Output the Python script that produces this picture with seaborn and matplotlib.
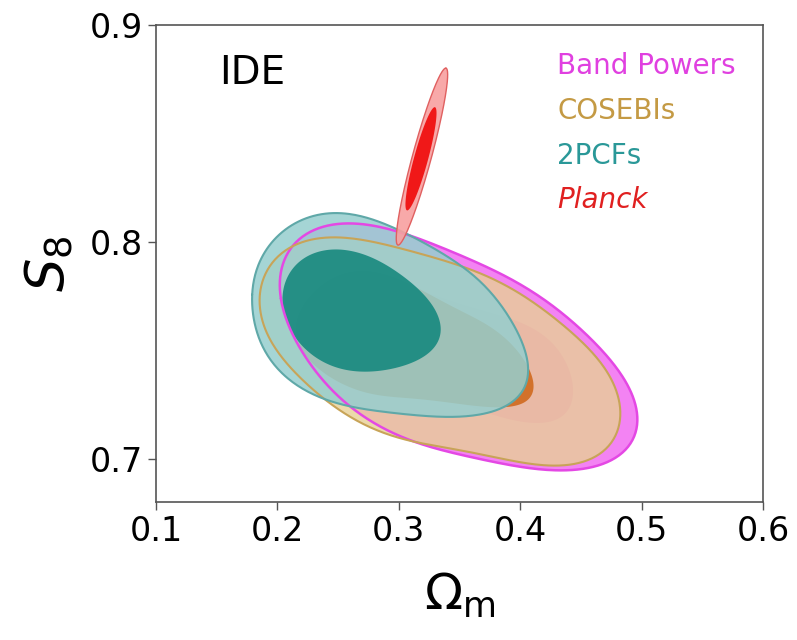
import numpy as np
import matplotlib
matplotlib.use("Agg")
import matplotlib.pyplot as plt
import seaborn as sns

# ----------------------------------
# Contour outlines (Omega_m, S8)
# ----------------------------------

# Band Powers, 95% and 68%
bp_outer_om = [0.204, 0.207, 0.216, 0.236, 0.260, 0.304, 0.342, 0.383, 0.414, 0.441, 0.468,
               0.485, 0.497, 0.495, 0.480, 0.452, 0.420, 0.383, 0.315, 0.274, 0.238, 0.213]
bp_outer_s8 = [0.774, 0.790, 0.802, 0.807, 0.808, 0.804, 0.796, 0.785, 0.776, 0.764, 0.750,
               0.735, 0.721, 0.710, 0.700, 0.696, 0.695, 0.698, 0.707, 0.719, 0.736, 0.755]
bp_inner_om = [0.219, 0.235, 0.268, 0.342, 0.408, 0.437, 0.445, 0.440, 0.429, 0.375, 0.301, 0.235]
bp_inner_s8 = [0.768, 0.778, 0.782, 0.773, 0.761, 0.743, 0.730, 0.722, 0.718, 0.721, 0.734, 0.750]

# COSEBIs, 95% and 68%
cos_outer_om = [0.186, 0.194, 0.210, 0.246, 0.301, 0.369, 0.439, 0.470, 0.482, 0.476, 0.458,
                0.420, 0.383, 0.328, 0.287, 0.249, 0.219, 0.196]
cos_outer_s8 = [0.776, 0.788, 0.798, 0.802, 0.797, 0.785, 0.760, 0.741, 0.722, 0.708, 0.699,
                0.697, 0.701, 0.705, 0.713, 0.723, 0.737, 0.753]
cos_inner_om = [0.216, 0.232, 0.260, 0.317, 0.367, 0.398, 0.411, 0.412, 0.403, 0.342, 0.285, 0.235, 0.219]
cos_inner_s8 = [0.764, 0.778, 0.786, 0.778, 0.764, 0.748, 0.737, 0.730, 0.726, 0.726, 0.729, 0.741, 0.752]

# 2PCFs, 95% and 68%
tp_outer_om = [0.179, 0.186, 0.200, 0.220, 0.249, 0.299, 0.342, 0.381, 0.400, 0.406, 0.401,
               0.392, 0.369, 0.330, 0.287, 0.238, 0.205, 0.183]
tp_outer_s8 = [0.776, 0.791, 0.802, 0.810, 0.814, 0.805, 0.793, 0.773, 0.755, 0.740, 0.729,
               0.725, 0.721, 0.720, 0.721, 0.728, 0.739, 0.758]
tp_inner_om = [0.204, 0.212, 0.226, 0.243, 0.268, 0.287, 0.315, 0.328, 0.334, 0.331, 0.315,
               0.290, 0.271, 0.240, 0.219, 0.208]
tp_inner_s8 = [0.773, 0.787, 0.794, 0.796, 0.795, 0.790, 0.779, 0.770, 0.759, 0.751, 0.746,
               0.741, 0.740, 0.744, 0.753, 0.763]

# Planck: centre, tip of long axis, half-width vector
planck_outer = {"c": (0.3191, 0.8393), "tip": (0.3389, 0.8801), "w": (0.0075, -0.0011)}
planck_inner = {"c": (0.3183, 0.8383), "tip": (0.3298, 0.8621), "w": (0.0056, -0.0008)}

labels = ["Band Powers", "COSEBIs", "2PCFs", "Planck"]
label_colors = ["#e040e0", "#c49a44", "#2a9898", "#e02020"]


def closed_curve(xs, ys, k=4, n=400):
    # smooth closed outline through the read points (low-order Fourier fit)
    xs, ys = np.asarray(xs), np.asarray(ys)
    seg = np.hypot(np.diff(np.r_[xs, xs[0]]) / 0.5, np.diff(np.r_[ys, ys[0]]) / 0.22)
    t = 2 * np.pi * np.r_[0, np.cumsum(seg)[:-1]] / seg.sum()

    def basis(tt):
        cols = [np.ones_like(tt)]
        for j in range(1, k + 1):
            cols += [np.cos(j * tt), np.sin(j * tt)]
        return np.column_stack(cols)

    A = basis(t)
    cx = np.linalg.lstsq(A, xs, rcond=None)[0]
    cy = np.linalg.lstsq(A, ys, rcond=None)[0]
    tt = np.linspace(0, 2 * np.pi, n)
    B = basis(tt)
    return B @ cx, B @ cy


def ellipse(e, n=200):
    t = np.linspace(0, 2 * np.pi, n)
    c, tip, w = np.array(e["c"]), np.array(e["tip"]), np.array(e["w"])
    a = tip - c
    pts = c + np.cos(t)[:, None] * a + np.sin(t)[:, None] * w
    return pts[:, 0], pts[:, 1]


sns.set_style("ticks")
plt.rcParams["font.family"] = ["DejaVu Sans"]
plt.rcParams["mathtext.fontset"] = "dejavusans"
plt.rcParams["text.color"] = "black"
plt.rcParams["axes.labelcolor"] = "black"
plt.rcParams["xtick.labelcolor"] = "black"
plt.rcParams["ytick.labelcolor"] = "black"

fig = plt.figure(figsize=(7.97, 6.4), dpi=100)
ax = fig.add_axes([0.1957, 0.2156, 0.7616, 0.7453])

# fills
x, y = closed_curve(bp_outer_om, bp_outer_s8, k=5)
ax.fill(x, y, color="#f383f3", lw=0, zorder=1)
x, y = closed_curve(bp_inner_om, bp_inner_s8)
ax.fill(x, y, color="#f060e8", lw=0, zorder=1)

x, y = closed_curve(cos_outer_om, cos_outer_s8, k=5)
ax.fill(x, y, color="#e8d095", alpha=0.8, lw=0, zorder=2)
x, y = closed_curve(cos_inner_om, cos_inner_s8)
ax.fill(x, y, color="#d0691e", alpha=0.9, lw=0, zorder=2)

x, y = closed_curve(tp_outer_om, tp_outer_s8, k=5)
ax.fill(x, y, color="#96cfcf", alpha=0.86, lw=0, zorder=3)
x, y = closed_curve(tp_inner_om, tp_inner_s8)
ax.fill(x, y, color="#1a8a80", alpha=0.92, lw=0, zorder=3)

# outlines
for om, s8, col, lw in [(bp_outer_om, bp_outer_s8, "#e448e4", 1.8),
                        (cos_outer_om, cos_outer_s8, "#c8a458", 1.5),
                        (tp_outer_om, tp_outer_s8, "#5fa8a8", 1.5)]:
    x, y = closed_curve(om, s8, k=5)
    sns.lineplot(x=x, y=y, sort=False, estimator=None, color=col, lw=lw, ax=ax, zorder=4)

# Planck
x, y = ellipse(planck_outer)
ax.fill(x, y, color="#f8a0a0", alpha=0.9, lw=0, zorder=5)
sns.lineplot(x=x, y=y, sort=False, estimator=None, color="#e06060", lw=1.0, ax=ax, zorder=6)
x, y = ellipse(planck_inner)
ax.fill(x, y, color="#f01818", lw=0, zorder=6)

# axes
ax.set_xlim(0.1, 0.6)
ax.set_ylim(0.68, 0.9)
ax.set_xticks([0.1, 0.2, 0.3, 0.4, 0.5, 0.6])
ax.set_yticks([0.7, 0.8, 0.9])
ax.tick_params(labelsize=24, length=6, width=1, color="#555555", direction="out")
for s in ax.spines.values():
    s.set_color("#555555")
    s.set_linewidth(1.2)
ax.set_xlabel(r"$\Omega_{\rm m}$", fontsize=36, labelpad=16)
ax.set_ylabel(r"$S_8$", fontsize=38, labelpad=10)

ax.text(0.158, 0.90, "IDE", transform=ax.transAxes, fontsize=28, ha="center", va="center")
ys = [0.914, 0.820, 0.725, 0.633]
for lab, col, yy in zip(labels, label_colors, ys):
    ax.text(0.661, yy, lab, transform=ax.transAxes, fontsize=20, color=col,
            ha="left", va="center", style="italic" if lab == "Planck" else "normal")

plt.savefig("out.png", dpi=100)
